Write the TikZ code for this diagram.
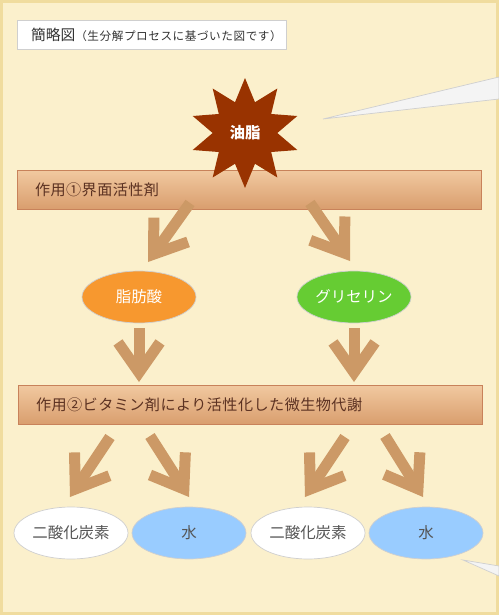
\documentclass[tikz,border=0pt]{standalone}
\usepackage{fontspec}
\setmainfont{Noto Sans CJK JP}
\usepackage{tikz}
\usetikzlibrary{arrows.meta,calc,positioning,shapes.geometric}
\usepackage{xcolor}

\definecolor{bgfill}{HTML}{FBF0CC}
\definecolor{bgedge}{HTML}{F0DC9E}
\definecolor{acttop}{HTML}{F1C9A0}
\definecolor{actbot}{HTML}{D99E6E}
\definecolor{actedge}{HTML}{C8825A}
\definecolor{acttext}{HTML}{5C3222}
\definecolor{arrowtan}{HTML}{CC9966}
\definecolor{oilred}{HTML}{993300}
\definecolor{fattyor}{HTML}{F7982F}
\definecolor{glygreen}{HTML}{66CC33}
\definecolor{waterblue}{HTML}{99CCFF}
\definecolor{blobedge}{HTML}{CFCFCF}
\definecolor{graytext}{HTML}{555555}
\definecolor{wedgefill}{HTML}{F4F4F4}

\begin{document}
\begin{tikzpicture}[x=0.02cm, y=-0.02cm,
  act/.style={draw=actedge, top color=acttop, bottom color=actbot, text=acttext,
    text width=8.56cm, inner xsep=0.36cm, minimum height=0.78cm, align=left,
    font=\fontsize{8.6}{10}\selectfont\addfontfeature{LetterSpace=3}},
  blob/.style={ellipse, draw=blobedge, minimum width=2.28cm, minimum height=1.04cm,
    inner sep=0pt, font=\fontsize{8.8}{10}\selectfont},
  fat/.style={draw=arrowtan, line width=0.22cm,
    -{Straight Barb[length=0.6cm, width=0.84cm]}}]

% background
\fill[bgedge] (0,0) rectangle (499,615);
\fill[bgfill] (3,3) rectangle (496,612);
\useasboundingbox (0,0) rectangle (499,615);

% callout tails
\filldraw[fill=wedgefill, draw=blobedge, line width=0.4pt] (323,119) -- (499,77) -- (499,99) -- cycle;
\filldraw[fill=wedgefill, draw=blobedge, line width=0.4pt] (463,560) -- (499,566) -- (499,576) -- cycle;

\node[draw=blobedge, fill=white, text width=5.1cm, inner xsep=0.14cm, inner ysep=0pt,
  minimum height=0.58cm, align=left, text=black!80] (title) at (151.5,34.5)
  {\hspace*{0.14cm}\fontsize{8.4}{10}\selectfont 簡略図\fontsize{6.6}{10}\selectfont\addfontfeature{LetterSpace=5}（生分解プロセスに基づいた図です）};

\node[act] (act1) at (249,189.5) {作用①界面活性剤};
\node[act] (act2) at (250,404.5) {作用②ビタミン剤により活性化した微生物代謝};

\node[star, star points=10, star point ratio=1.7, minimum size=2.2cm, inner sep=0pt,
  fill=oilred, text=white, font=\fontsize{8.8}{10}\selectfont\bfseries] (oil) at (245,133) {油脂};

\node[blob, fill=fattyor, text=white] (fatty) at (139,297) {脂肪酸};
\node[blob, fill=glygreen, text=white] (glycerin) at (354,297) {グリセリン};

\node[blob, fill=white, text=graytext] (co2a) at (71,533) {二酸化炭素};
\node[blob, fill=waterblue, text=graytext] (watera) at (189,533) {水};
\node[blob, fill=white, text=graytext] (co2b) at (308,533) {二酸化炭素};
\node[blob, fill=waterblue, text=graytext] (waterb) at (426,533) {水};

% arrows under act1
\coordinate (s1) at (190,203); \coordinate (t1) at (148,262);
\coordinate (s2) at (310,203); \coordinate (t2) at (350,261);
\draw[fat] (s1) -- (t1);
\draw[fat] (s2) -- (t2);

% arrows into act2
\draw[fat] (fatty.south |- 0,328) -- (fatty.south |- 0,382);
\draw[fat] (glycerin.south |- 0,328) -- (glycerin.south |- 0,382);

% arrows under act2
\coordinate (s3) at (110,437); \coordinate (t3) at (70,497);
\coordinate (s4) at (150,436); \coordinate (t4) at (189,497);
\coordinate (s5) at (345,437); \coordinate (t5) at (305,497);
\coordinate (s6) at (385,436); \coordinate (t6) at (423,497);
\foreach \a in {3,...,6}
  \draw[fat] (s\a) -- (t\a);

\end{tikzpicture}
\end{document}
